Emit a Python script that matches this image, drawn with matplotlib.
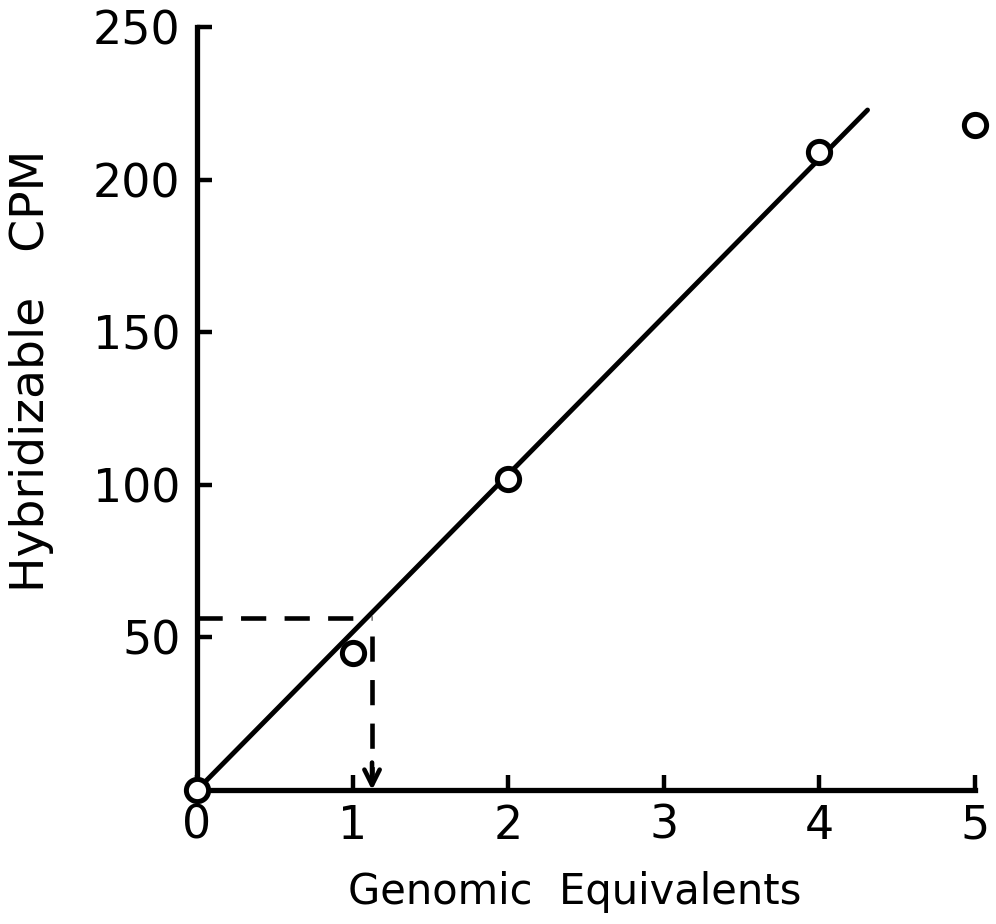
import matplotlib.pyplot as plt

# measured points
genomic_eq = [0, 1, 2, 4, 5]
cpm = [0, 45, 102, 209, 218]

# fitted line drawn through the points
fit_x = [0, 4.31]
fit_y = [0, 222.8]

# read-off for the unknown sample
read_cpm = 56.4
read_eq = 1.125
arrow_start = 50.5

x_ticks = [0, 1, 2, 3, 4, 5]
y_ticks = [50, 100, 150, 200, 250]

plt.rcParams['font.family'] = ['DejaVu Sans']

fig = plt.figure(figsize=(9.96, 9.24), dpi=100)
ax = fig.add_axes([0.1978, 0.145, 0.781, 0.8258])

ax.plot(fit_x, fit_y, color='black', linewidth=3.5, solid_capstyle='round', zorder=2)
ax.plot(genomic_eq, cpm, linestyle='none', marker='o', markersize=16,
        markerfacecolor='white', markeredgecolor='black', markeredgewidth=3.6,
        clip_on=False, zorder=3)

# dashed read-off lines
ax.plot([0, read_eq], [read_cpm, read_cpm], color='black', linewidth=3.3,
        dashes=(5.5, 4), zorder=1)
ax.plot([read_eq, read_eq], [arrow_start, 5], color='black', linewidth=3.3,
        dashes=(5.5, 4), zorder=1)
ax.annotate('', xy=(read_eq, 0), xytext=(read_eq, 9),
            arrowprops=dict(arrowstyle='->,head_length=1.1,head_width=0.55',
                            color='black', linewidth=3.3, shrinkA=0, shrinkB=0))

ax.set_xlim(0, 5)
ax.set_ylim(0, 250)
ax.set_xticks(x_ticks)
ax.set_yticks(y_ticks)

for side in ['top', 'right']:
    ax.spines[side].set_visible(False)
for side in ['left', 'bottom']:
    ax.spines[side].set_linewidth(3.8)

ax.tick_params(direction='in', length=11, width=3.2, labelsize=33)
ax.tick_params(axis='x', pad=10)
ax.tick_params(axis='y', pad=12)

ax.set_xlabel('Genomic  Equivalents', fontsize=30, va='center')
ax.set_ylabel('Hybridizable   CPM', fontsize=34, va='center')
ax.xaxis.set_label_coords(0.486, -0.134)
ax.yaxis.set_label_coords(-0.213, 0.55)

fig.savefig('out.png', dpi=100)
